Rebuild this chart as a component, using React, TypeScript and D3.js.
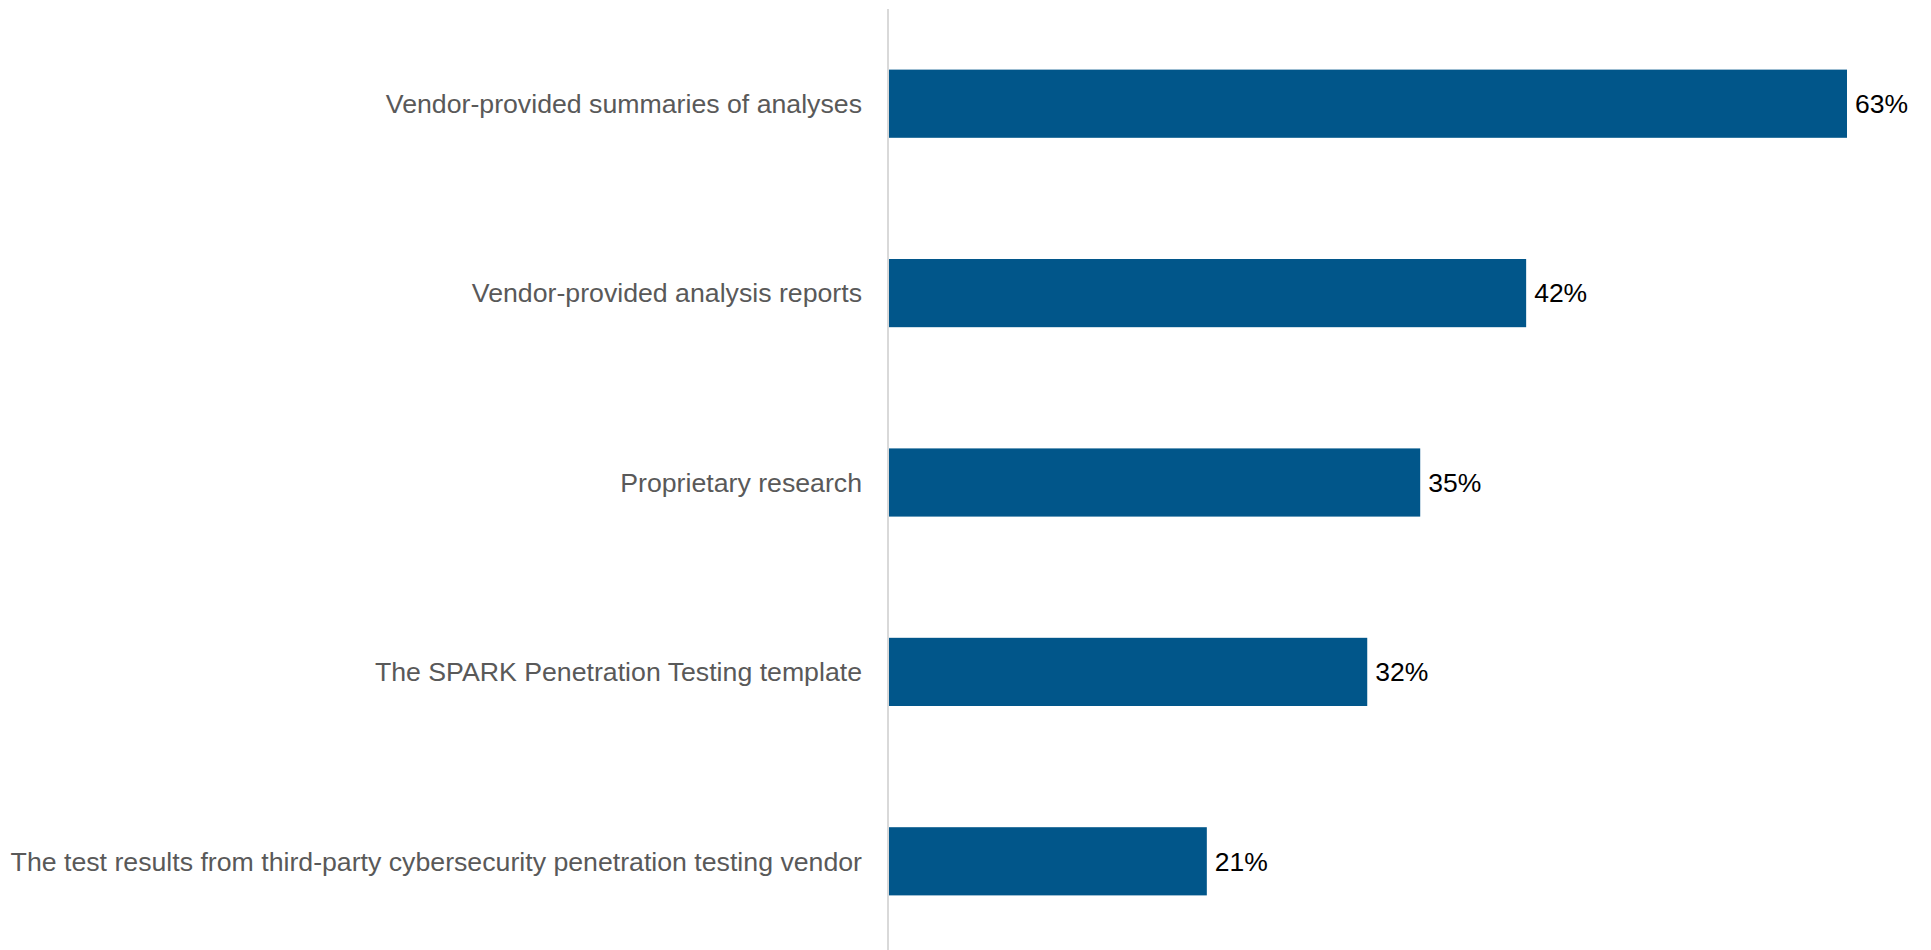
import React from "react";
import * as d3 from "d3";

const categories: string[] = [
  "Vendor-provided summaries of analyses",
  "Vendor-provided analysis reports",
  "Proprietary research",
  "The SPARK Penetration Testing template",
  "The test results from third-party cybersecurity penetration testing vendor",
];
const values: number[] = [63.3, 42.1, 35.1, 31.6, 21.0];

const W = 1931;
const H = 950;

export default function App() {
  const x = d3.scaleLinear().domain([0, d3.max(values) as number]).range([889, 1847]);
  const y = d3
    .scaleBand<string>()
    .domain(categories)
    .range([9, 956])
    .paddingInner(0.64)
    .paddingOuter(0.32);
  const fmt = (v: number) => `${Math.round(v)}%`;
  const font = "Liberation Sans, Arial, sans-serif";
  return (
    <svg
      width={W}
      height={H}
      style={{ position: "absolute", left: 0, top: 0, background: "#fff" }}
    >
      <line x1={888} x2={888} y1={9} y2={H} stroke="#d9d9d9" strokeWidth={2} />
      {categories.map((c, i) => {
        const yy = y(c) as number;
        const bw = y.bandwidth();
        return (
          <g key={c}>
            <rect x={x(0)} y={yy} width={x(values[i]) - x(0)} height={bw} fill="#01568A" />
            <text
              x={862}
              y={yy + bw / 2}
              dy="0.35em"
              textAnchor="end"
              fontFamily={font}
              fontSize={26.7}
              fill="#595959"
            >
              {c}
            </text>
            <text
              x={x(values[i]) + 8}
              y={yy + bw / 2}
              dy="0.35em"
              textAnchor="start"
              fontFamily={font}
              fontSize={26.5}
              fill="#000"
            >
              {fmt(values[i])}
            </text>
          </g>
        );
      })}
    </svg>
  );
}
